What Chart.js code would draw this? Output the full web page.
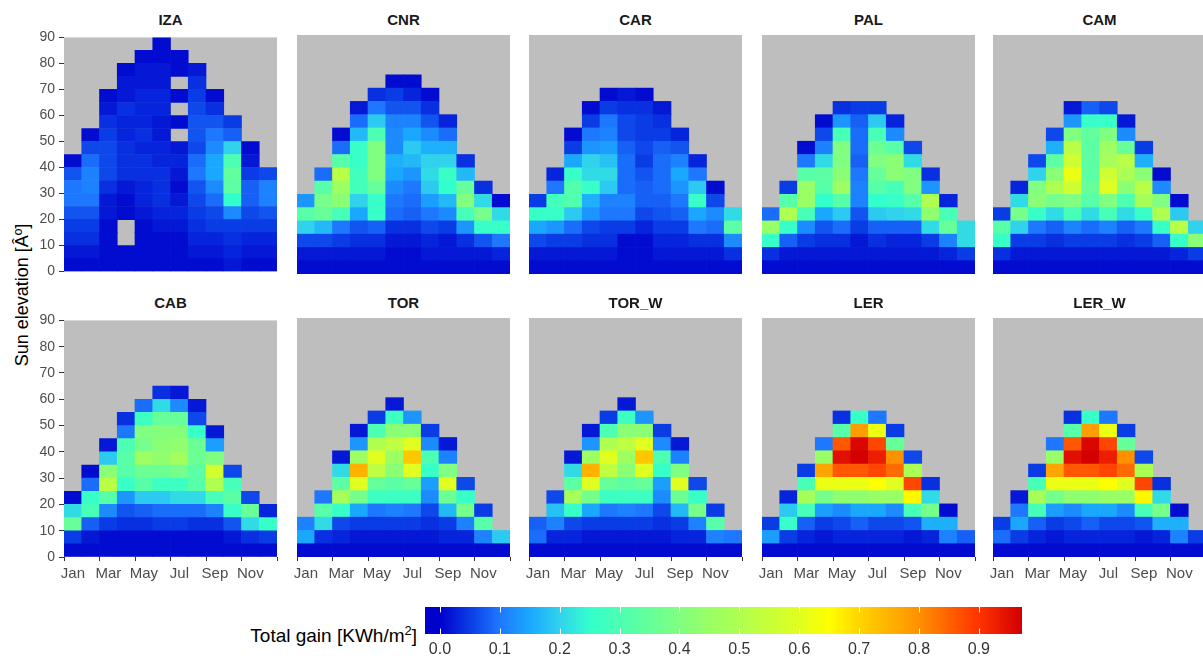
<!DOCTYPE html>
<html>
<head>
<meta charset="utf-8">
<script src="https://cdn.jsdelivr.net/npm/chart.js@4.4.0/dist/chart.umd.min.js"></script>
<style>
  html, body { margin: 0; padding: 0; background: #fff; }
  body { width: 1203px; height: 662px; overflow: hidden; position: relative;
         font-family: "Liberation Sans", Arial, sans-serif; }
  canvas { position: absolute; }
  .title { position: absolute; width: 213px; text-align: center; font-weight: bold;
           font-size: 15px; line-height: 18px; color: #1a1a1a; }
  #ytitle { position: absolute; width: 300px; left: -128px; top: 284px; text-align: center;
            font-size: 18px; line-height: 22px; color: #000; transform: rotate(-90deg); }
  #cbtitle { position: absolute; right: 786px; top: 626px; font-size: 19px; line-height: 19px;
             color: #000; white-space: nowrap; }
  #cbtitle sup { font-size: 13px; vertical-align: 7px; line-height: 0; }
</style>
</head>
<body>
<div id="ytitle">Sun elevation [Âº]</div>
<div id="cbtitle">Total gain [KWh/m<sup>2</sup>]</div>
<script>
const months = ['Jan','Feb','Mar','Apr','May','Jun','Jul','Aug','Sep','Oct','Nov','Dec'];
const elevTicks = [0, 10, 20, 30, 40, 50, 60, 70, 80, 90];
const binWidth = 5;   // degrees per elevation bin
const stations = ['IZA','CNR','CAR','PAL','CAM','CAB','TOR','TOR_W','LER','LER_W'];

// total gain per month, elevation bins from 0-5 upward (null = no data)
const IZA = [
  [0.01, 0.02, 0.04, 0.05, 0.07, 0.1, 0.1, 0.07, 0.01],
  [0.01, 0.02, 0.04, 0.05, 0.07, 0.1, 0.11, 0.11, 0.09, 0.06, 0.01],
  [0.01, 0.01, 0.01, 0.01, 0.02, 0.02, 0.04, 0.06, 0.06, 0.06, 0.05, 0.04, 0.02, 0.01],
  [0.01, 0.01, null, null, 0.01, 0.01, 0.02, 0.04, 0.04, 0.04, 0.03, 0.03, 0.04, 0.02, 0.02, 0.01],
  [0.01, 0.01, 0.01, 0.01, 0.02, 0.03, 0.03, 0.04, 0.04, 0.03, 0.04, 0.03, 0.03, 0.03, 0.02, 0.02, 0.01],
  [0.01, 0.01, 0.01, 0.02, 0.03, 0.04, 0.04, 0.04, 0.03, 0.03, 0.02, 0.02, 0.03, 0.03, 0.02, 0.02, 0.01, 0.01],
  [0.01, 0.01, 0.01, 0.02, 0.03, 0.02, 0.01, 0.02, 0.03, 0.02, null, 0.01, null, 0.01, null, 0.01, 0.01],
  [0.01, 0.02, 0.03, 0.04, 0.05, 0.06, 0.07, 0.1, 0.09, 0.06, 0.07, 0.07, 0.06, 0.05, 0.04, 0.02],
  [0.01, 0.02, 0.03, 0.05, 0.06, 0.09, 0.12, 0.15, 0.15, 0.12, 0.1, 0.07, 0.04, 0.01],
  [0.02, 0.03, 0.04, 0.05, 0.12, 0.25, 0.33, 0.34, 0.3, 0.2, 0.08, 0.05],
  [0.01, 0.02, 0.03, 0.05, 0.06, 0.08, 0.08, 0.05, 0.02, 0.01],
  [0.01, 0.02, 0.03, 0.05, 0.07, 0.11, 0.11, 0.06]
];
const CNR = [
  [0.01, 0.02, 0.06, 0.2, 0.32, 0.13],
  [0.01, 0.02, 0.06, 0.17, 0.35, 0.38, 0.32, 0.09],
  [0.01, 0.02, 0.05, 0.1, 0.29, 0.42, 0.46, 0.52, 0.32, 0.09, 0.01],
  [0.01, 0.02, 0.04, 0.07, 0.15, 0.2, 0.28, 0.28, 0.26, 0.26, 0.17, 0.09, 0.02],
  [0.01, 0.02, 0.04, 0.08, 0.26, 0.26, 0.35, 0.4, 0.4, 0.4, 0.3, 0.19, 0.1, 0.04],
  [0.01, 0.01, 0.02, 0.04, 0.09, 0.1, 0.12, 0.15, 0.16, 0.12, 0.12, 0.11, 0.07, 0.05, 0.01],
  [0.01, 0.01, 0.02, 0.04, 0.08, 0.09, 0.1, 0.13, 0.17, 0.19, 0.15, 0.11, 0.07, 0.03, 0.01],
  [0.01, 0.02, 0.03, 0.06, 0.1, 0.14, 0.19, 0.21, 0.2, 0.16, 0.12, 0.07, 0.04, 0.01],
  [0.01, 0.02, 0.02, 0.05, 0.12, 0.17, 0.25, 0.26, 0.2, 0.16, 0.09, 0.03],
  [0.01, 0.02, 0.04, 0.13, 0.29, 0.4, 0.35, 0.17, 0.04],
  [0.01, 0.02, 0.07, 0.26, 0.38, 0.21, 0.04],
  [0.01, 0.03, 0.1, 0.26, 0.21, 0.01]
];
const CAR = [
  [0.01, 0.02, 0.06, 0.15, 0.26, 0.05],
  [0.01, 0.02, 0.05, 0.13, 0.26, 0.28, 0.1, 0.03],
  [0.01, 0.02, 0.05, 0.09, 0.19, 0.31, 0.31, 0.26, 0.15, 0.05, 0.01],
  [0.01, 0.02, 0.04, 0.06, 0.13, 0.16, 0.26, 0.21, 0.2, 0.13, 0.1, 0.05, 0.01],
  [0.01, 0.02, 0.04, 0.05, 0.1, 0.11, 0.19, 0.21, 0.18, 0.14, 0.11, 0.1, 0.05, 0.01],
  [0.01, 0.01, 0.01, 0.05, 0.1, 0.11, 0.09, 0.09, 0.09, 0.08, 0.06, 0.06, 0.04, 0.02],
  [0.01, 0.01, 0.01, 0.03, 0.06, 0.08, 0.08, 0.07, 0.05, 0.06, 0.05, 0.05, 0.04, 0.01],
  [0.01, 0.02, 0.03, 0.05, 0.07, 0.08, 0.09, 0.09, 0.09, 0.08, 0.05, 0.04, 0.02],
  [0.01, 0.02, 0.03, 0.05, 0.08, 0.1, 0.13, 0.15, 0.11, 0.07, 0.03],
  [0.01, 0.02, 0.04, 0.1, 0.15, 0.26, 0.19, 0.1, 0.03],
  [0.01, 0.02, 0.04, 0.09, 0.12, 0.06, 0.01],
  [0.01, 0.04, 0.12, 0.33, 0.21]
];
const PAL = [
  [0.01, 0.04, 0.26, 0.45, 0.09],
  [0.01, 0.02, 0.08, 0.26, 0.5, 0.32, 0.05],
  [0.01, 0.02, 0.05, 0.12, 0.29, 0.45, 0.45, 0.32, 0.1, 0.01],
  [0.01, 0.02, 0.04, 0.07, 0.15, 0.25, 0.32, 0.33, 0.21, 0.11, 0.06, 0.01],
  [0.01, 0.02, 0.04, 0.09, 0.19, 0.32, 0.46, 0.42, 0.4, 0.4, 0.29, 0.13, 0.04],
  [0.01, 0.02, 0.02, 0.05, 0.07, 0.11, 0.11, 0.1, 0.08, 0.09, 0.09, 0.08, 0.05],
  [0.01, 0.02, 0.04, 0.08, 0.19, 0.25, 0.32, 0.35, 0.4, 0.36, 0.29, 0.19, 0.05],
  [0.01, 0.02, 0.03, 0.08, 0.2, 0.26, 0.29, 0.42, 0.42, 0.32, 0.12, 0.03],
  [0.01, 0.02, 0.03, 0.08, 0.21, 0.32, 0.4, 0.4, 0.21, 0.06],
  [0.01, 0.02, 0.05, 0.21, 0.43, 0.5, 0.13, 0.04],
  [0.01, 0.03, 0.11, 0.35, 0.29, 0.03],
  [0.01, 0.05, 0.21, 0.21]
];
const CAM = [
  [0.01, 0.04, 0.26, 0.32, 0.05],
  [0.01, 0.02, 0.05, 0.2, 0.38, 0.21, 0.03],
  [0.01, 0.02, 0.05, 0.1, 0.26, 0.42, 0.4, 0.2, 0.06],
  [0.01, 0.02, 0.04, 0.08, 0.21, 0.38, 0.5, 0.42, 0.33, 0.16, 0.06],
  [0.01, 0.02, 0.05, 0.11, 0.29, 0.4, 0.56, 0.62, 0.56, 0.52, 0.4, 0.13, 0.02],
  [0.01, 0.02, 0.05, 0.09, 0.21, 0.32, 0.35, 0.33, 0.33, 0.33, 0.34, 0.26, 0.08],
  [0.01, 0.02, 0.05, 0.11, 0.29, 0.4, 0.6, 0.56, 0.48, 0.46, 0.4, 0.26, 0.06],
  [0.01, 0.02, 0.04, 0.08, 0.21, 0.3, 0.42, 0.49, 0.52, 0.35, 0.12, 0.02],
  [0.01, 0.02, 0.05, 0.1, 0.26, 0.48, 0.52, 0.42, 0.16, 0.05],
  [0.01, 0.02, 0.08, 0.26, 0.5, 0.4, 0.12, 0.01],
  [0.01, 0.03, 0.26, 0.52, 0.19, 0.01],
  [0.01, 0.05, 0.42, 0.2]
];
const CAB = [
  [0.01, 0.05, 0.35, 0.21, 0.01],
  [0.01, 0.02, 0.08, 0.29, 0.26, 0.09, 0.01],
  [0.01, 0.01, 0.05, 0.12, 0.32, 0.52, 0.42, 0.19, 0.02],
  [0.01, 0.01, 0.04, 0.07, 0.13, 0.26, 0.32, 0.32, 0.3, 0.1, 0.04],
  [0.01, 0.01, 0.04, 0.08, 0.19, 0.32, 0.36, 0.46, 0.38, 0.4, 0.27, 0.09],
  [0.01, 0.01, 0.05, 0.09, 0.19, 0.27, 0.36, 0.43, 0.42, 0.41, 0.35, 0.21, 0.04],
  [0.01, 0.01, 0.05, 0.09, 0.21, 0.27, 0.38, 0.47, 0.43, 0.41, 0.35, 0.12, 0.02],
  [0.01, 0.01, 0.04, 0.09, 0.21, 0.32, 0.33, 0.36, 0.36, 0.26, 0.06, 0.02],
  [0.01, 0.01, 0.04, 0.11, 0.29, 0.5, 0.57, 0.4, 0.14, 0.02],
  [0.01, 0.02, 0.07, 0.26, 0.33, 0.29, 0.06],
  [0.01, 0.04, 0.21, 0.35, 0.06],
  [0.01, 0.05, 0.26, 0.03]
];
const TOR = [
  [0.01, 0.15, 0.11],
  [0.01, 0.04, 0.21, 0.32, 0.1],
  [0.01, 0.03, 0.06, 0.26, 0.48, 0.33, 0.21, 0.02],
  [0.01, 0.02, 0.05, 0.15, 0.38, 0.6, 0.75, 0.46, 0.13, 0.02],
  [0.01, 0.02, 0.05, 0.1, 0.27, 0.35, 0.53, 0.6, 0.5, 0.3, 0.05],
  [0.01, 0.02, 0.05, 0.11, 0.27, 0.33, 0.42, 0.46, 0.53, 0.42, 0.27, 0.02],
  [0.01, 0.02, 0.05, 0.1, 0.27, 0.35, 0.6, 0.72, 0.6, 0.42, 0.13],
  [0.01, 0.02, 0.04, 0.06, 0.12, 0.14, 0.26, 0.3, 0.12, 0.05],
  [0.01, 0.03, 0.05, 0.17, 0.36, 0.6, 0.4, 0.11, 0.02],
  [0.01, 0.03, 0.11, 0.38, 0.26, 0.06],
  [0.01, 0.11, 0.32, 0.05],
  [0.01, 0.19]
];
const TOR_W = [
  [0.01, 0.09, 0.08],
  [0.01, 0.03, 0.11, 0.18, 0.06],
  [0.01, 0.03, 0.06, 0.26, 0.48, 0.33, 0.21, 0.02],
  [0.01, 0.02, 0.05, 0.15, 0.38, 0.6, 0.75, 0.46, 0.13, 0.02],
  [0.01, 0.02, 0.05, 0.1, 0.27, 0.35, 0.53, 0.6, 0.5, 0.3, 0.05],
  [0.01, 0.02, 0.05, 0.11, 0.27, 0.33, 0.42, 0.46, 0.53, 0.42, 0.27, 0.02],
  [0.01, 0.02, 0.05, 0.1, 0.27, 0.35, 0.6, 0.72, 0.6, 0.42, 0.13],
  [0.01, 0.02, 0.04, 0.06, 0.12, 0.14, 0.26, 0.3, 0.12, 0.05],
  [0.01, 0.03, 0.05, 0.17, 0.36, 0.6, 0.4, 0.11, 0.02],
  [0.01, 0.03, 0.11, 0.38, 0.26, 0.06],
  [0.01, 0.11, 0.32, 0.05],
  [0.01, 0.1]
];
const LER = [
  [0.01, 0.14, 0.05],
  [0.01, 0.05, 0.26, 0.19, 0.03],
  [0.01, 0.03, 0.08, 0.29, 0.48, 0.29, 0.05],
  [0.01, 0.02, 0.05, 0.14, 0.38, 0.62, 0.77, 0.45, 0.1],
  [0.01, 0.03, 0.06, 0.12, 0.43, 0.62, 0.86, 0.95, 0.86, 0.32, 0.04],
  [0.01, 0.03, 0.08, 0.15, 0.43, 0.62, 0.86, 0.97, 0.96, 0.78, 0.26],
  [0.01, 0.03, 0.06, 0.15, 0.45, 0.65, 0.88, 0.93, 0.88, 0.62, 0.1],
  [0.01, 0.03, 0.06, 0.12, 0.45, 0.6, 0.84, 0.8, 0.35, 0.05],
  [0.01, 0.02, 0.07, 0.29, 0.66, 0.88, 0.49, 0.06],
  [0.01, 0.03, 0.16, 0.38, 0.21, 0.04],
  [0.01, 0.11, 0.16, 0.01],
  [0.01, 0.08]
];
const LER_W = [
  [0.01, 0.09, 0.05],
  [0.01, 0.05, 0.15, 0.1, 0.02],
  [0.01, 0.03, 0.08, 0.29, 0.48, 0.29, 0.05],
  [0.01, 0.02, 0.05, 0.14, 0.38, 0.62, 0.77, 0.45, 0.1],
  [0.01, 0.03, 0.06, 0.12, 0.43, 0.62, 0.86, 0.95, 0.86, 0.32, 0.04],
  [0.01, 0.03, 0.08, 0.15, 0.43, 0.62, 0.86, 0.97, 0.96, 0.78, 0.26],
  [0.01, 0.03, 0.06, 0.15, 0.45, 0.65, 0.88, 0.93, 0.88, 0.62, 0.1],
  [0.01, 0.03, 0.06, 0.12, 0.45, 0.6, 0.84, 0.8, 0.35, 0.05],
  [0.01, 0.02, 0.07, 0.29, 0.66, 0.88, 0.49, 0.06],
  [0.01, 0.03, 0.16, 0.38, 0.21, 0.04],
  [0.01, 0.11, 0.16, 0.01],
  [0.01, 0.05]
];
const gainByStation = { IZA, CNR, CAR, PAL, CAM, CAB, TOR, TOR_W, LER, LER_W };

const gainTicks = [0, 0.1, 0.2, 0.3, 0.4, 0.5, 0.6, 0.7, 0.8, 0.9];
const gainRange = [-0.025, 0.972];

// colour scale (value -> colour)
const colourStops = [
  [0.00, '#0000CC'], [0.05, '#0A3CE6'], [0.10, '#1E78FF'], [0.15, '#1AA8FF'],
  [0.20, '#30D2EC'], [0.25, '#33FFCC'], [0.30, '#4CFFB2'], [0.35, '#66FF99'],
  [0.40, '#80FF80'], [0.45, '#99FF66'], [0.50, '#AFFF50'], [0.55, '#C8FF38'],
  [0.60, '#E0FF20'], [0.65, '#FFFF00'], [0.70, '#FFD500'], [0.80, '#FF9000'],
  [0.90, '#FF3300'], [0.97, '#D40000']
];

function hexRgb(h) {
  return [parseInt(h.slice(1, 3), 16), parseInt(h.slice(3, 5), 16), parseInt(h.slice(5, 7), 16)];
}
function gainColour(v) {
  if (v === null || v === undefined) return 'rgba(0,0,0,0)';
  if (v <= colourStops[0][0]) return colourStops[0][1];
  for (let i = 1; i < colourStops.length; i++) {
    if (v <= colourStops[i][0]) {
      const a = colourStops[i - 1], b = colourStops[i];
      const t = (v - a[0]) / (b[0] - a[0]);
      const ca = hexRgb(a[1]), cb = hexRgb(b[1]);
      const c = ca.map((x, k) => Math.round(x + (cb[k] - x) * t));
      return `rgb(${c[0]},${c[1]},${c[2]})`;
    }
  }
  return colourStops[colourStops.length - 1][1];
}

Chart.defaults.font.family = '"Liberation Sans", Arial, sans-serif';
Chart.defaults.animation = false;

// layout
const panelLeft = [64, 297, 529, 762, 993];
const panelTop = [35, 318];
const panelW = 213, panelH = 239;
const PAD = 10, YW = 44, XH = 28;

const panelBg = {
  id: 'panelBg',
  beforeDatasetsDraw(chart) {
    const { ctx, chartArea: a } = chart;
    ctx.save();
    ctx.fillStyle = '#BEBEBE';
    ctx.fillRect(a.left, a.top, a.right - a.left, a.bottom - a.top);
    ctx.restore();
  }
};

function makeCanvas(left, top, w, h) {
  const cv = document.createElement('canvas');
  cv.width = w; cv.height = h;
  cv.style.left = left + 'px'; cv.style.top = top + 'px';
  cv.style.width = w + 'px'; cv.style.height = h + 'px';
  document.body.appendChild(cv);
  return cv;
}

stations.forEach(function (name, k) {
  const r = Math.floor(k / 5), c = k % 5;
  const cols = gainByStation[name];
  const showY = c === 0, showX = r === 1;

  const t = document.createElement('div');
  t.className = 'title';
  t.textContent = name;
  t.style.left = panelLeft[c] + 'px';
  t.style.top = (panelTop[r] - 24) + 'px';
  document.body.appendChild(t);

  const left = panelLeft[c] - PAD - (showY ? YW : 0);
  const top = panelTop[r] - PAD;
  const w = panelW + 2 * PAD + (showY ? YW : 0);
  const h = panelH + 2 * PAD + (showX ? XH : 0);
  const cv = makeCanvas(left, top, w, h);

  const nBins = elevTicks[elevTicks.length - 1] / binWidth;
  const datasets = [];
  for (let b = 0; b < nBins; b++) {
    datasets.push({
      data: months.map((m, i) => {
        const v = cols[i][b];
        return (v === null || v === undefined) ? null : [b * binWidth, (b + 1) * binWidth];
      }),
      backgroundColor: months.map((m, i) => gainColour(cols[i][b])),
      borderWidth: 0,
      grouped: false,
      barPercentage: 1,
      categoryPercentage: 1
    });
  }

  new Chart(cv, {
    type: 'bar',
    data: { labels: months, datasets: datasets },
    options: {
      responsive: false,
      layout: { padding: PAD },
      plugins: { legend: { display: false }, tooltip: { enabled: false } },
      scales: {
        x: {
          display: showX,
          grid: {
            drawOnChartArea: false, tickLength: 4,
            tickColor: (ctx) => ctx.index % 2 ? 'rgba(0,0,0,0)' : '#333333'
          },
          border: { display: false },
          ticks: {
            autoSkip: false, maxRotation: 0, padding: 4,
            color: '#4D4D4D', font: { size: 15 },
            callback: function (v, i) { return i % 2 ? '' : months[i]; }
          },
          afterFit: (scale) => { scale.height = showX ? XH : 0; }
        },
        y: {
          display: showY,
          min: 0, max: 90,
          afterBuildTicks: (scale) => { scale.ticks = elevTicks.map(v => ({ value: v })); },
          grid: { drawOnChartArea: false, tickLength: 5, color: '#333333' },
          border: { display: false },
          ticks: { padding: 4, color: '#4D4D4D', font: { size: 14 } },
          afterFit: (scale) => { scale.width = showY ? YW : 0; }
        }
      }
    },
    plugins: [panelBg]
  });
});

// colour bar
const cbLeft = 425, cbTop = 607, cbW = 597, cbH = 27, cbAxis = 24;
const cbCanvas = makeCanvas(cbLeft - PAD, cbTop - PAD, cbW + 2 * PAD, cbH + 2 * PAD + cbAxis);

const cbTickMarks = {
  id: 'cbTickMarks',
  afterDatasetsDraw(chart) {
    const { ctx, chartArea: a, scales } = chart;
    const len = (a.bottom - a.top) / 5;
    ctx.save();
    ctx.strokeStyle = '#ffffff';
    ctx.lineWidth = 1;
    gainTicks.forEach(v => {
      const x = Math.round(scales.x.getPixelForValue(v)) + 0.5;
      ctx.beginPath();
      ctx.moveTo(x, a.top); ctx.lineTo(x, a.top + len);
      ctx.moveTo(x, a.bottom - len); ctx.lineTo(x, a.bottom);
      ctx.stroke();
    });
    ctx.restore();
  }
};

new Chart(cbCanvas, {
  type: 'bar',
  data: {
    labels: ['gain'],
    datasets: [{
      data: [gainRange],
      borderWidth: 0,
      barPercentage: 1,
      categoryPercentage: 1,
      backgroundColor: function (ctx) {
        const chart = ctx.chart;
        if (!chart.chartArea) return '#0000CC';
        const xs = chart.scales.x;
        const g = chart.ctx.createLinearGradient(xs.getPixelForValue(0), 0, xs.getPixelForValue(1), 0);
        colourStops.forEach(s => g.addColorStop(s[0], s[1]));
        return g;
      }
    }]
  },
  options: {
    responsive: false,
    indexAxis: 'y',
    layout: { padding: PAD },
    plugins: { legend: { display: false }, tooltip: { enabled: false } },
    scales: {
      x: {
        type: 'linear',
        min: gainRange[0], max: gainRange[1],
        afterBuildTicks: (scale) => { scale.ticks = gainTicks.map(v => ({ value: v })); },
        grid: { display: false, drawTicks: false, tickLength: 0 },
        border: { display: false },
        ticks: { padding: 6, color: '#333333', font: { size: 16 },
                 callback: (v) => v.toFixed(1) },
        afterFit: (scale) => { scale.height = cbAxis; }
      },
      y: { display: false }
    }
  },
  plugins: [cbTickMarks]
});
</script>
</body>
</html>
